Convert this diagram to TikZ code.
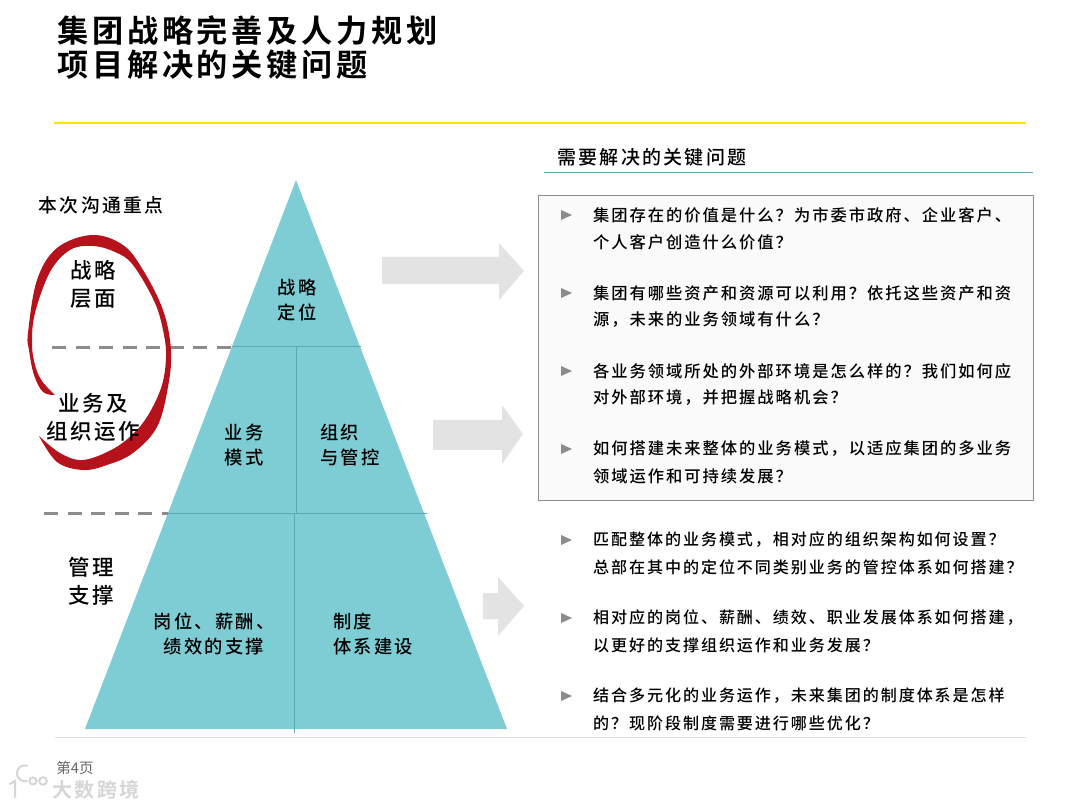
\documentclass[tikz,border=0pt]{standalone}
\usepackage{fontspec}
\setmainfont{Noto Sans CJK SC}
\newfontfamily\cjktitle{Noto Sans CJK SC Bold}[LetterSpace=12]
\newfontfamily\cjkbody{Noto Sans CJK SC Medium}[LetterSpace=12]
\definecolor{tealfill}{HTML}{7FCDD4}
\definecolor{tealline}{HTML}{5FA8AE}
\definecolor{ringred}{HTML}{B5121B}
\definecolor{arrowgray}{HTML}{E3E3E3}
\definecolor{dashgray}{HTML}{8C8C8C}
\tikzset{
  ttl/.style={anchor=west,inner sep=0pt,font=\cjktitle\fontsize{31.2}{32}\selectfont,text=black},
  body/.style={anchor=west,inner sep=0pt,font=\cjkbody\fontsize{16.3}{16.3}\selectfont,text=black},
  bodylow/.style={anchor=west,inner sep=0pt,font=\cjkbody\fontsize{16.05}{16.05}\selectfont,text=black},
  lab/.style={align=center,inner sep=0pt,font=\cjkbody\fontsize{21.5}{28}\selectfont,text=black},
  plab/.style={lab,font=\cjkbody\fontsize{18.3}{25}\selectfont},
  hdr/.style={anchor=west,inner sep=0pt,font=\cjkbody\fontsize{19}{19}\selectfont,text=black},
  blockarrow/.style={fill=arrowgray,draw=none},
  divide/.style={draw=tealline,line width=1pt},
  dashline/.style={draw=dashgray,line width=3pt,dash pattern=on 14pt off 9.5pt},
  bul/.style={fill=black!45,draw=none},
  logomark/.style={draw=black!16,line width=2pt,line cap=round}
}
\newcommand{\bullettri}[2]{\fill[bul] (#1,#2-5) -- (#1+11,#2) -- (#1,#2+5) -- cycle;}
\begin{document}
\begin{tikzpicture}[x=1pt,y=-1pt]
\useasboundingbox (0,0) rectangle (1080,810);
\fill[white] (0,0) rectangle (1080,810);
% title
\node[ttl] (t1) at (57,31) {集团战略完善及人力规划};
\node[ttl] (t2) at (57,65) {项目解决的关键问题};
\draw[draw=yellow!85!orange,line width=1.6pt] (54,123) -- (1026,123);
% triangle
\fill[tealfill] (296,180) -- (507,729) -- (85,729) -- cycle;
\draw[divide] (232,347) -- (361,347);
\draw[divide] (168,513) -- (427,513);
\draw[divide] (296,347) -- (296,513);
\draw[divide] (294,513) -- (294,733);
\draw[dashline] (52,347.5) -- (232,347.5);
\draw[dashline] (44,513) -- (168,513);
% ring
\fill[ringred] plot[smooth,tension=.6] coordinates {(55,395) (43,392) (34,375) (29,350) (28,333) (37,280) (57,248) (92,235) (123,245) (143,270) (163,310) (171,350) (168,387) (157,427) (133,453) (107,465) (83,470) (57,462) (39,436)}
 -- plot[smooth,tension=.6] coordinates {(39,436) (60,453) (83,460) (113,449) (135,432) (150,412) (162,385) (166,358) (164,335) (155,303) (133,265) (115,252) (93,246) (70,250) (50,272) (35,313) (32,343) (35,365) (42,381) (55,395)} -- cycle;
\node[inner sep=0pt,font=\cjkbody\fontsize{18.8}{18.8}\selectfont,text=black] (focus) at (101,205) {本次沟通重点};
\node[lab] (a1) at (93,284) {战略\\层面};
\node[lab] (a2) at (93,417) {业务及\\组织运作};
\node[lab] (a3) at (91,581) {管理\\支撑};
\node[plab] (b1) at (297,300) {战略\\定位};
\node[plab] (b2) at (244,445) {业务\\模式};
\node[plab,align=left,anchor=west] (b3) at (320,445) {组织\\与管控};
\node[plab] (b4) at (214,634) {岗位、薪酬、\\绩效的支撑};
\node[plab,align=left,anchor=west] (b5) at (333,634) {制度\\体系建设};
% arrows
\fill[blockarrow] (382,257) -- (499,257) -- (499,243) -- (524,271) -- (499,300) -- (499,284) -- (382,284) -- cycle;
\fill[blockarrow] (433,420) -- (502,420) -- (502,405) -- (523,434) -- (502,464) -- (502,450) -- (433,450) -- cycle;
\fill[blockarrow] (483,593) -- (498,593) -- (498,577) -- (524,606) -- (498,636) -- (498,619) -- (483,619) -- cycle;
% right
\node[hdr] (h) at (557,157) {需要解决的关键问题};
\draw[draw=tealline,line width=1.2pt] (544,172.5) -- (1033,172.5);
\draw[draw=black!45,fill=black!2,line width=.8pt] (538,195) rectangle (1033,500);
\foreach \y/\txta/\txtb in {
 215/集团存在的价值是什么？为市委市政府、企业客户、/个人客户创造什么价值？,
 293/集团有哪些资产和资源可以利用？依托这些资产和资/源，未来的业务领域有什么？,
 371/各业务领域所处的外部环境是怎么样的？我们如何应/对外部环境，并把握战略机会？,
 449/如何搭建未来整体的业务模式，以适应集团的多业务/领域运作和可持续发展？}{
  \bullettri{561}{\y}
  \node[body] at (593,\y) {\txta};
  \node[body] at (593,\y+27) {\txtb};
}
\foreach \y/\txta/\txtb in {
 540/匹配整体的业务模式，相对应的组织架构如何设置？/总部在其中的定位不同类别业务的管控体系如何搭建？,
 618/相对应的岗位、薪酬、绩效、职业发展体系如何搭建，/以更好的支撑组织运作和业务发展？,
 696/结合多元化的业务运作，未来集团的制度体系是怎样/的？现阶段制度需要进行哪些优化？}{
  \bullettri{561}{\y}
  \node[bodylow] at (593,\y) {\txta};
  \node[bodylow] at (593,\y+27) {\txtb};
}
% footer
\draw[draw=black!12,line width=1pt] (55,737) -- (1026,737);
\node[inner sep=0pt,font=\fontsize{14.5}{14.5}\selectfont,text=black!60] (pg) at (75,768) {第4页};
\node[inner sep=0pt,font=\cjktitle\fontsize{20}{20}\selectfont,text=black!16] (wm) at (96,790) {大数跨境};
\draw[logomark] (10,784) -- (15,781) -- (15,797);
\draw[logomark] (27,781) arc[start angle=75,end angle=285,radius=8];
\draw[logomark] (33,781) circle[radius=3.5];
\draw[logomark] (43,781) circle[radius=3.8];
\end{tikzpicture}
\end{document}
